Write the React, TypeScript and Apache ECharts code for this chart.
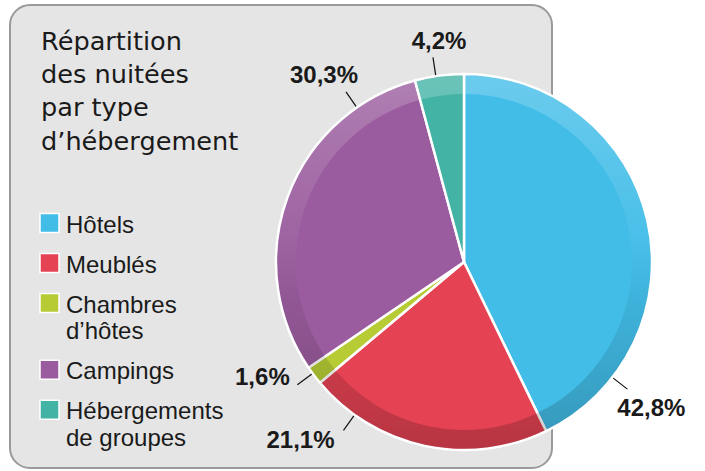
import React, { useEffect, useRef } from "react";
import * as echarts from "echarts";

// ---- data ----
const categories = ["Hôtels", "Meublés", "Chambres d’hôtes", "Campings", "Hébergements de groupes"];
const legendLabels = ["Hôtels", "Meublés", "Chambres\nd’hôtes", "Campings", "Hébergements\nde groupes"];
const shares = [42.8, 21.1, 1.6, 30.3, 4.2];
const colors = ["#42bde8", "#e54253", "#b6cb34", "#9a5c9e", "#43b3a5"];
const titleText = "Répartition\ndes nuitées\npar type\nd’hébergement";

// ---- layout / style constants ----
const CX = 464;
const CY = 262;
const R = 188;
const RIN = 168;
const labelAnchorFrac = [0.83, 0.81, 0.62, 0.82, 0.43];
const labelOffset = [
  [24, 18],
  [-43, 9],
  [-35, -8],
  [-22, -17],
  [6, -17],
];

export default function App() {
  const ref = useRef<HTMLDivElement>(null);

  useEffect(() => {
    if (!ref.current) return;
    const chart = echarts.init(ref.current, undefined, { renderer: "svg" });
    const total = shares.reduce((a, b) => a + b, 0);
    const data = categories.map((name, i) => ({
      name,
      value: shares[i],
      itemStyle: { color: colors[i] },
    }));

    // legend built from categories
    const legendEls: any[] = [];
    let yc = 223;
    const lineH = 26.7;
    legendLabels.forEach((lab, i) => {
      const lines = lab.split("\n").length;
      legendEls.push({
        type: "rect",
        shape: { x: 40, y: yc - 9.5, width: 19, height: 19 },
        style: { fill: colors[i], stroke: "#ffffff", lineWidth: 1.5 },
      });
      legendEls.push({
        type: "text",
        x: 66,
        y: yc - lineH / 2 + 1,
        style: {
          text: lab,
          font: "24px 'Liberation Sans', Arial, sans-serif",
          fill: "#1a1a1a",
          lineHeight: lineH,
          verticalAlign: "top",
          align: "left",
        },
      });
      yc += lines * lineH + 13.3;
    });

    const ringGradient = new echarts.graphic.LinearGradient(
      0,
      CY - R,
      0,
      CY + R,
      [
        { offset: 0, color: "rgba(255,255,255,0.22)" },
        { offset: 0.42, color: "rgba(255,255,255,0.05)" },
        { offset: 0.58, color: "rgba(0,0,0,0.05)" },
        { offset: 1, color: "rgba(0,0,0,0.2)" },
      ],
      true
    );

    chart.setOption({
      animation: false,
      title: {
        text: titleText,
        left: 36,
        top: 19,
        textStyle: {
          fontFamily: "'DejaVu Sans', sans-serif",
          fontSize: 25.6,
          fontWeight: "normal",
          color: "#1a1a1a",
          lineHeight: 33.3,
        },
      },
      graphic: [
        {
          type: "rect",
          z: -10,
          shape: { x: 10, y: 5, width: 542, height: 463, r: 20 },
          style: { fill: "#e5e5e5", stroke: "#9a9a9a", lineWidth: 2 },
        },
        ...legendEls,
      ],
      series: [
        {
          type: "pie",
          center: [CX, CY],
          radius: [0, R],
          startAngle: 90,
          clockwise: true,
          avoidLabelOverlap: false,
          data,
          itemStyle: { borderColor: "#ffffff", borderWidth: 2.5 },
          label: {
            show: true,
            position: "outside",
            formatter: (p: any) => p.value.toFixed(1).replace(".", ",") + "%",
            fontFamily: "'Liberation Sans', Arial, sans-serif",
            fontWeight: "bold",
            fontSize: 24,
            color: "#1a1a1a",
          },
          labelLine: { show: true, length: 20, length2: 0, lineStyle: { color: "#111", width: 1.2 } },
          labelLayout: (params: any) => {
            const i = params.dataIndex;
            let before = 0;
            for (let k = 0; k < i; k++) before += shares[k];
            const frac = (before + labelAnchorFrac[i] * shares[i]) / total;
            const a = frac * Math.PI * 2;
            const ux = Math.sin(a);
            const uy = -Math.cos(a);
            const p1 = [CX + ux * 170, CY + uy * 170];
            const p2 = [CX + ux * 207, CY + uy * 207];
            return {
              x: p2[0] + labelOffset[i][0],
              y: p2[1] + labelOffset[i][1],
              align: "center",
              verticalAlign: "middle",
              labelLinePoints: [p1, p2, p2],
            };
          },
          emphasis: { disabled: true },
          z: 2,
        },
        {
          type: "pie",
          center: [CX, CY],
          radius: [RIN, R - 1.2],
          startAngle: 90,
          clockwise: true,
          silent: true,
          data: categories.map((name, i) => ({ name, value: shares[i] })),
          itemStyle: { color: ringGradient, borderWidth: 0 },
          label: { show: false },
          labelLine: { show: false },
          emphasis: { disabled: true },
          z: 3,
        },
      ],
    });
    return () => chart.dispose();
  }, []);

  return (
    <div
      ref={ref}
      style={{ position: "fixed", left: 0, top: 0, width: 705, height: 471, background: "#ffffff" }}
    />
  );
}
